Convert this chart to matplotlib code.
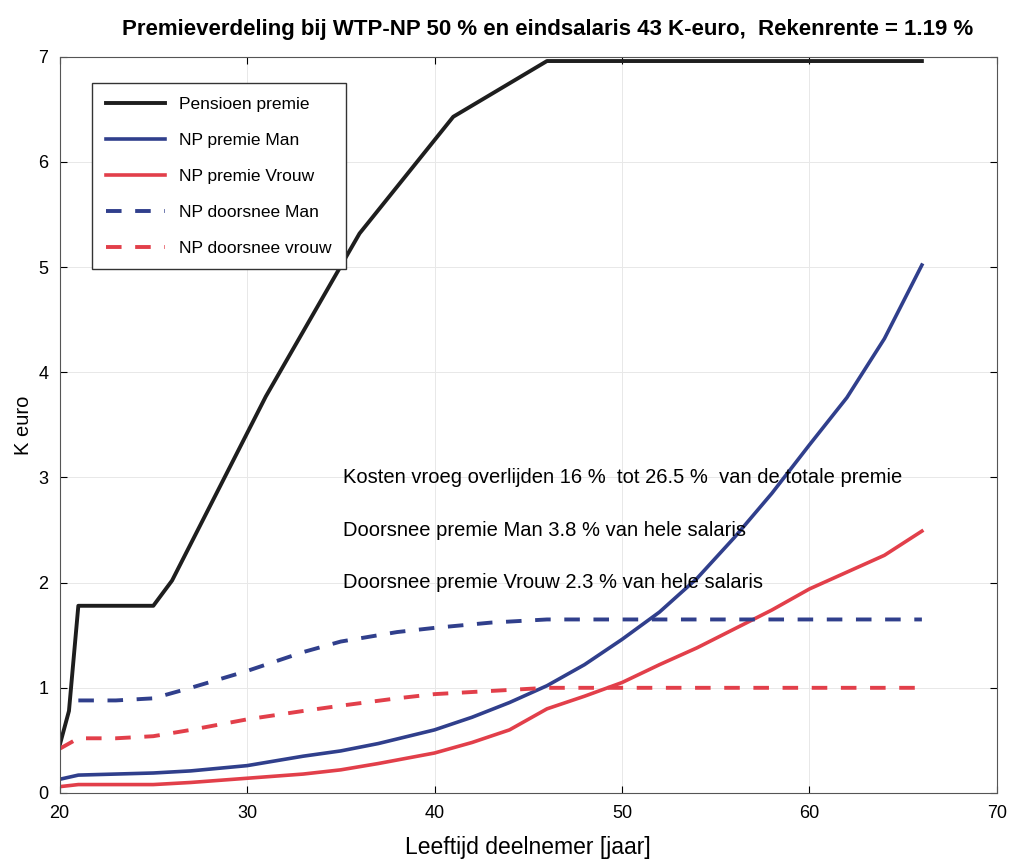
import numpy as np
import matplotlib
matplotlib.use("Agg")
import matplotlib.pyplot as plt

plt.rcParams['font.family'] = ['Liberation Sans', 'DejaVu Sans']

# pensioen premie (K euro)
age_pens = [20, 20.5, 21, 25, 26, 31, 36, 41, 46, 66]
pens = [0.45, 0.78, 1.78, 1.78, 2.02, 3.77, 5.32, 6.43, 6.96, 6.96]

age = [20, 21, 23, 25, 27, 30, 33, 35, 37, 40, 42, 44, 46, 48, 50, 52, 54, 56, 58, 60, 62, 64, 66]
np_man = [0.13, 0.17, 0.18, 0.19, 0.21, 0.26, 0.35, 0.4, 0.47, 0.6, 0.72, 0.86, 1.02, 1.22, 1.46, 1.72,
          2.04, 2.43, 2.85, 3.31, 3.76, 4.32, 5.02]
np_vrouw = [0.06, 0.08, 0.08, 0.08, 0.1, 0.14, 0.18, 0.22, 0.28, 0.38, 0.48, 0.6, 0.8, 0.92, 1.05, 1.22,
            1.38, 1.56, 1.74, 1.94, 2.1, 2.26, 2.49]

age_dn_man = [21, 23, 25, 27, 30, 33, 35, 38, 40, 43, 46, 50, 55, 60, 66]
dn_man = [0.88, 0.88, 0.9, 1.0, 1.16, 1.34, 1.44, 1.53, 1.57, 1.62, 1.65, 1.65, 1.65, 1.65, 1.65]
age_dn_vrouw = [20, 21, 23, 25, 27, 30, 33, 35, 38, 40, 43, 46, 50, 55, 60, 66]
dn_vrouw = [0.42, 0.52, 0.52, 0.54, 0.6, 0.7, 0.78, 0.83, 0.9, 0.94, 0.97, 1.0, 1.0, 1.0, 1.0, 1.0]

blue = '#303f8c'
red = '#e23f4a'

fig = plt.figure(figsize=(10.1, 8.61), dpi=100)
ax = fig.add_axes([0.059, 0.079, 0.928, 0.855])

ax.plot(age_pens, pens, color='#1e1e1e', lw=2.8, label='Pensioen premie')
ax.plot(age, np_man, color=blue, lw=2.6, label='NP premie Man')
ax.plot(age, np_vrouw, color=red, lw=2.6, label='NP premie Vrouw')
ax.plot(age_dn_man, dn_man, color=blue, lw=2.8, ls=(0, (4, 3.5)), label='NP doorsnee Man')
ax.plot(age_dn_vrouw, dn_vrouw, color=red, lw=2.8, ls=(0, (4, 3.5)), label='NP doorsnee vrouw')

ax.set_xlim(20, 70)
ax.set_ylim(0, 7)
ax.set_xticks(np.arange(20, 71, 10))
ax.set_yticks(np.arange(0, 8, 1))
ax.tick_params(direction='in', labelsize=13, length=5, top=True, right=True)
ax.tick_params(axis='x', pad=9)
ax.tick_params(axis='y', pad=8)
ax.grid(True, color='#e8e8e8', lw=0.7)
for s in ax.spines.values():
    s.set_color('#555555')

ax.set_title('Premieverdeling bij WTP-NP 50 % en eindsalaris 43 K-euro,  Rekenrente = 1.19 %',
             fontsize=16, fontweight='bold', pad=16, x=0.521)
ax.set_xlabel('Leeftijd deelnemer [jaar]', fontsize=16.5, labelpad=10)
ax.set_ylabel('K euro', fontsize=14.5, labelpad=4)

ax.text(35.1, 3.0, 'Kosten vroeg overlijden 16 %  tot 26.5 %  van de totale premie', fontsize=14.5, va='center')
ax.text(35.1, 2.5, 'Doorsnee premie Man 3.8 % van hele salaris', fontsize=14.5, va='center')
ax.text(35.1, 2.0, 'Doorsnee premie Vrouw 2.3 % van hele salaris', fontsize=14.5, va='center')

leg = ax.legend(loc='upper left', bbox_to_anchor=(0.035, 0.965), borderaxespad=0, fontsize=12.5,
                labelspacing=1.2, handlelength=3.4, fancybox=False, framealpha=1, edgecolor='#333333',
                borderpad=0.8)

fig.savefig('out.png')
